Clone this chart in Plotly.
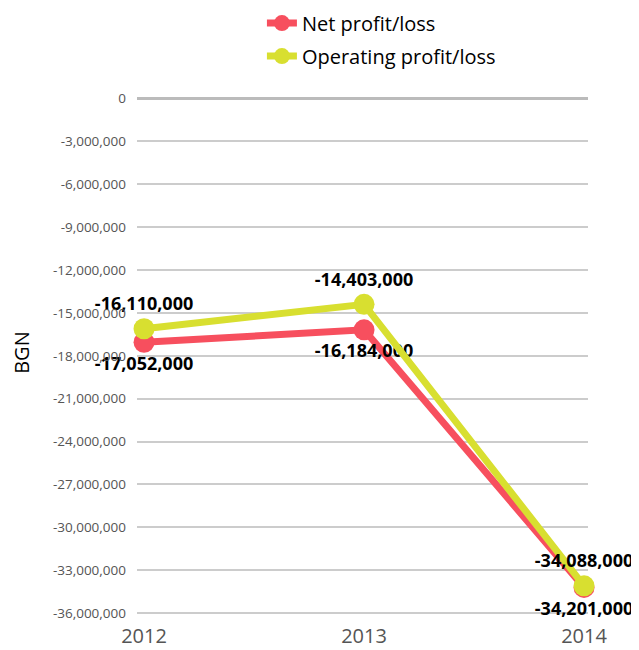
import plotly.graph_objects as go

years = [2012, 2013, 2014]
net = [-17052000, -16184000, -34201000]
operating = [-16110000, -14403000, -34088000]
net_labels = ["-17,052,000", "-16,184,000", "-34,201,000"]
op_labels = ["-16,110,000", "-14,403,000", "-34,088,000"]
y_ticks = [0, -3000000, -6000000, -9000000, -12000000, -15000000, -18000000,
           -21000000, -24000000, -27000000, -30000000, -33000000, -36000000]
y_tick_text = ["0", "-3,000,000", "-6,000,000", "-9,000,000", "-12,000,000", "-15,000,000",
               "-18,000,000", "-21,000,000", "-24,000,000", "-27,000,000", "-30,000,000",
               "-33,000,000", "-36,000,000"]
x_tick_text = ["2012", "2013", "2014"]

RED = "#F74F5E"
YEL = "#D8DF30"
FONT = "Open Sans"

fig = go.Figure()
fig.add_trace(go.Scatter(
    x=years, y=net, name="Net profit/loss", mode="lines+markers+text",
    line=dict(color=RED, width=7), marker=dict(color=RED, size=21),
    text=net_labels, textposition="bottom center",
    textfont=dict(family=FONT, size=18, color="#000000", weight="bold"),
    cliponaxis=False, legendgroup="a",
))
fig.add_trace(go.Scatter(
    x=years, y=operating, name="Operating profit/loss", mode="lines+markers+text",
    line=dict(color=YEL, width=7), marker=dict(color=YEL, size=21),
    text=op_labels, textposition="top center",
    textfont=dict(family=FONT, size=18, color="#000000", weight="bold"),
    cliponaxis=False, legendgroup="b",
))

fig.add_annotation(
    text="BGN", xref="paper", yref="paper", x=-0.255, y=0.509,
    xanchor="center", yanchor="middle", textangle=-90, showarrow=False,
    borderpad=0, font=dict(family=FONT, size=20, color="#000000"),
)

fig.update_layout(
    width=631, height=642,
    margin=dict(l=129, r=51, t=89, b=34, autoexpand=False),
    paper_bgcolor="white", plot_bgcolor="white",
    font=dict(family=FONT, color="#000000"),
    showlegend=True,
    legend=dict(
        x=0.277, y=1.18, xanchor="left", yanchor="top",
        orientation="v", font=dict(family=FONT, size=20, color="#000000"),
        itemsizing="trace", tracegroupgap=4, bgcolor="rgba(0,0,0,0)",
    ),
    xaxis=dict(
        range=[2011.968, 2014.018], tickvals=years, ticktext=x_tick_text,
        showgrid=False, zeroline=False, showline=False, automargin=False,
        tickfont=dict(family=FONT, size=20, color="#555555"),
        ticks="", ticklabelstandoff=6,
    ),
    yaxis=dict(
        range=[-36200000, 100000], tickvals=y_ticks, ticktext=y_tick_text,
        showgrid=True, gridcolor="#CCCCCC", gridwidth=1.5,
        zeroline=True, zerolinecolor="#BBBBBB", zerolinewidth=2.5,
        showline=False, ticks="", automargin=False,
        tickfont=dict(family=FONT, size=13.5, color="#555555"),
        ticklabelstandoff=10,
    ),
)

fig.write_html("out.html")
